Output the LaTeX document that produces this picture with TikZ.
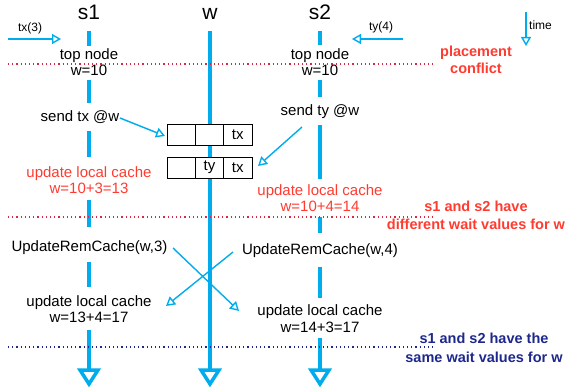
\documentclass[tikz,border=0pt]{standalone}
\usepackage{fontspec}
\setmainfont{Liberation Sans}
\usetikzlibrary{arrows.meta}
\definecolor{lblue}{RGB}{0,172,236}
\definecolor{tred}{RGB}{255,59,48}
\definecolor{dred}{RGB}{215,40,70}
\definecolor{navy}{RGB}{30,40,140}
\begin{document}
\begin{tikzpicture}[x=1pt,y=-1pt,
 txt/.style={font=\fontsize{15}{17}\selectfont, inner sep=0pt, anchor=base},
 redtxt/.style={txt, text=tred},
 boldtxt/.style={font=\fontsize{14.5}{18}\selectfont\bfseries, inner sep=0pt, anchor=base},
 small/.style={font=\fontsize{12}{14}\selectfont, inner sep=0pt, anchor=base},
 big/.style={font=\fontsize{21}{24}\selectfont, inner sep=0pt, anchor=base},
 life/.style={draw=lblue, line width=4.5pt},
 thinarrow/.style={draw=lblue, line width=1.4pt, -{Triangle[open, length=9pt, width=10pt]}},
 cell/.style={draw, fill=white, line width=0.8pt, minimum width=28.33pt, minimum height=21pt, inner sep=0pt, font=\fontsize{15}{17}\selectfont},
 headst/.style={draw=lblue, line width=3.5pt, fill=white, line join=miter},
 reddots/.style={draw=dred, line width=1.2pt, dash pattern=on 1.2pt off 3pt},
 bluedots/.style={draw=navy, line width=1.2pt, dash pattern=on 1.2pt off 3pt}
]
\useasboundingbox (0,0) rectangle (568,390);

% headers
\node[big] (s1) at (89,20) {s1};
\node[big] (wh) at (210,20) {w};
\node[big] (s2) at (320,20) {s2};

% lifelines
\foreach \a/\b [count=\i] in {31/46, 80/103, 131/157, 200/227, 262/287, 330/370} {
  \coordinate (s1t\i) at (89,\a); \coordinate (s1b\i) at (89,\b);
  \draw[life] (s1t\i) -- (s1b\i);
}
\foreach \a/\b [count=\i] in {31/45, 80/97, 125/179, 217/233, 267/298, 338/370} {
  \coordinate (s2t\i) at (320,\a); \coordinate (s2b\i) at (320,\b);
  \draw[life] (s2t\i) -- (s2b\i);
}
\coordinate (wt) at (210,31); \coordinate (wb) at (210,370);
\draw[life] (wt) -- (wb);

% arrow heads at bottom
\foreach \x/\n in {89/h1, 210/h2, 320/h3} {
  \coordinate (\n) at (\x,384);
  \draw[headst] (\x-9,370) -- (\x+9,370) -- (\n) -- cycle;
}

% input arrows
\node[small] (tx3) at (30,32) {tx(3)};
\coordinate (txs) at (8,39); \coordinate (txe) at (61,39);
\draw[thinarrow] (txs) -- (txe);
\node[small] (ty4) at (381,31) {ty(4)};
\coordinate (tys) at (403,39); \coordinate (tye) at (352,39);
\draw[thinarrow] (tys) -- (tye);
\coordinate (times) at (526,12); \coordinate (timee) at (526,46);
\draw[thinarrow] (times) -- (timee);
\node[small, anchor=base west] (time) at (529,30) {time};

% dotted separators
\coordinate (d1a) at (8,64); \coordinate (d1b) at (435,64);
\draw[reddots] (d1a) -- (d1b);
\coordinate (d2a) at (8,217); \coordinate (d2b) at (435,217);
\draw[reddots] (d2a) -- (d2b);
\coordinate (d3a) at (8,347); \coordinate (d3b) at (435,347);
\draw[bluedots] (d3a) -- (d3b);

% top node texts
\node[txt] (tn1) at (89,60) {top node};
\node[txt] (tw1) at (89,76) {w=10};
\node[txt] (tn2) at (320,60) {top node};
\node[txt] (tw2) at (320,76) {w=10};

% send
\node[txt] (send1) at (80,122) {send tx @w};
\node[txt] (send2) at (320,116) {send ty @w};

% queue cells
\node[cell] (c11) at (181.2,134.5) {};
\node[cell] (c12) at (209.5,134.5) {};
\node[cell] (c13) at (237.8,134.5) {tx};
\node[cell] (c21) at (181.2,167.5) {};
\node[cell] (c22) at (209.5,167.5) {ty};
\node[cell] (c23) at (237.8,167.5) {tx};

\coordinate (a1s) at (120,118); \coordinate (a1e) at (165,136);
\draw[thinarrow] (a1s) -- (a1e);
\coordinate (a2s) at (302,127); \coordinate (a2e) at (258,166);
\draw[thinarrow] (a2s) -- (a2e);

% red updates
\node[redtxt] (u1a) at (89,178) {update local cache};
\node[redtxt] (u1b) at (89,194) {w=10+3=13};
\node[redtxt] (u2a) at (320,196) {update local cache};
\node[redtxt] (u2b) at (320,212) {w=10+4=14};

% remote updates
\node[txt] (r1) at (89.5,252) {UpdateRemCache(w,3)};
\node[txt] (r2) at (320,255) {UpdateRemCache(w,4)};
\coordinate (x1s) at (173,248); \coordinate (x1e) at (239,311);
\draw[thinarrow] (x1s) -- (x1e);
\coordinate (x2s) at (233,252); \coordinate (x2e) at (166,306);
\draw[thinarrow] (x2s) -- (x2e);

% final updates
\node[txt] (f1a) at (89,306) {update local cache};
\node[txt] (f1b) at (89,323) {w=13+4=17};
\node[txt] (f2a) at (320,316) {update local cache};
\node[txt] (f2b) at (320,333) {w=14+3=17};

% notes
\node[boldtxt, text=tred] (n1a) at (476,57) {placement};
\node[boldtxt, text=tred] (n1b) at (476,74) {conflict};
\node[boldtxt, text=tred] (n2a) at (476,212) {s1 and s2 have};
\node[boldtxt, text=tred] (n2b) at (476,230) {different wait values for w};
\node[boldtxt, text=navy] (n3a) at (484,343) {s1 and s2 have the};
\node[boldtxt, text=navy] (n3b) at (484,362) {same wait values for w};
\end{tikzpicture}
\end{document}
